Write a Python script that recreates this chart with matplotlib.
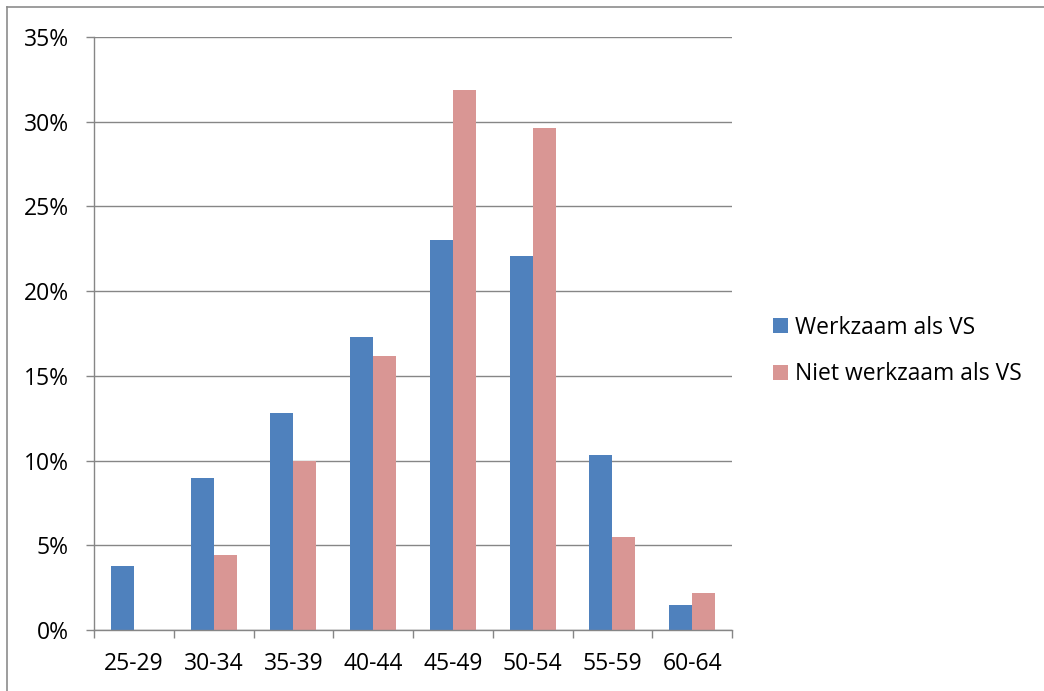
import matplotlib
matplotlib.use("Agg")
import matplotlib.pyplot as plt
from matplotlib.lines import Line2D
from matplotlib.patches import Patch
import numpy as np

categories = ["25-29", "30-34", "35-39", "40-44", "45-49", "50-54", "55-59", "60-64"]
werkzaam = [3.8, 9.0, 12.8, 17.3, 23.0, 22.1, 10.3, 1.5]
niet_werkzaam = [0.0, 4.4, 10.0, 16.2, 31.9, 29.6, 5.5, 2.2]
y_ticks = [0, 5, 10, 15, 20, 25, 30, 35]
series_names = ["Werkzaam als VS", "Niet werkzaam als VS"]

BLUE = "#4F81BD"
PINK = "#D99694"
GRID = "#868686"

plt.rcParams["font.family"] = ["Open Sans", "DejaVu Sans"]

W, H = 1044, 691
fig = plt.figure(figsize=(W / 100, H / 100), dpi=100)
ax = fig.add_axes([94 / W, (H - 630) / H, (732 - 94) / W, (630 - 37) / H])

x = np.arange(len(categories))
bw = 0.288
ax.bar(x - bw, werkzaam, width=bw, align="edge", color=BLUE, label=series_names[0])
ax.bar(x, niet_werkzaam, width=bw, align="edge", color=PINK, label=series_names[1])

ax.set_xlim(-0.5, len(categories) - 0.5)
ax.set_ylim(0, 35)

ax.set_yticks(y_ticks)
ax.set_yticklabels([f"{v}%" for v in y_ticks])
ax.yaxis.grid(True, color=GRID, linewidth=1.0)
ax.set_axisbelow(True)

ax.set_xticks(x)
ax.set_xticklabels(categories)
ax.set_xticks(np.arange(len(categories) + 1) - 0.5, minor=True)
ax.tick_params(axis="x", which="major", length=0, pad=16, labelsize=16.5, colors="black")
ax.tick_params(axis="x", which="minor", length=6, width=1.0, color=GRID)
ax.tick_params(axis="y", length=6, width=1.0, color=GRID, pad=12, labelsize=16.5)

for side in ["top", "right"]:
    ax.spines[side].set_visible(False)
for side in ["left", "bottom"]:
    ax.spines[side].set_color(GRID)
    ax.spines[side].set_linewidth(1.0)

handles = [Patch(facecolor=BLUE), Patch(facecolor=PINK)]
fig.legend(handles, series_names, loc="center left",
           bbox_to_anchor=(773 / W, (H - 351) / H), frameon=False,
           fontsize=16.5, handlelength=0.65, handleheight=0.65,
           handletextpad=0.3, labelspacing=1.0, borderpad=0, borderaxespad=0)

# outer frame of the chart area (left and top edges)
fig.add_artist(Line2D([6.5 / W, 6.5 / W], [0, (H - 7) / H], color="#8C8C8C",
                      linewidth=1.2, transform=fig.transFigure))
fig.add_artist(Line2D([6.5 / W, 1], [(H - 7) / H, (H - 7) / H], color="#8C8C8C",
                      linewidth=1.2, transform=fig.transFigure))

fig.savefig("out.png", dpi=100)
